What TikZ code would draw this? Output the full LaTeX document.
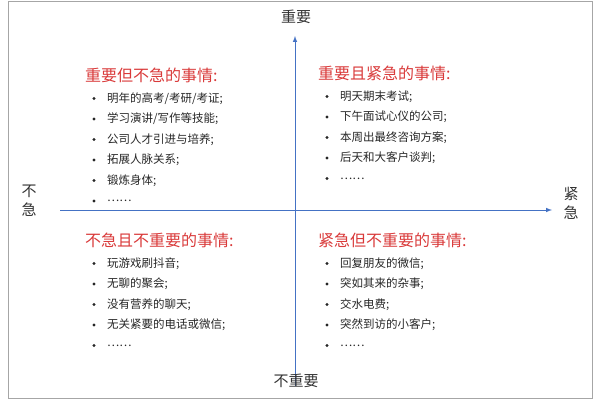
\documentclass[tikz,border=0pt]{standalone}
\usepackage{fontspec}
\newfontfamily\cjk{Noto Sans CJK SC}
\definecolor{axc}{HTML}{4472C4}
\definecolor{tred}{HTML}{D93A3A}
\begin{document}
\begin{tikzpicture}[x=1pt,y=-1pt,
  lab/.style={font=\cjk\fontsize{15}{15}\selectfont,text=black!80},
  ttl/.style={font=\cjk\fontsize{16}{16}\selectfont,text=tred,anchor=west,inner sep=0},
  itm/.style={font=\cjk\fontsize{11.5}{11.5}\selectfont,text=black!85,anchor=west,inner sep=0},
  bul/.style={circle,fill=black!85,inner sep=0,minimum size=3.2pt},
  ax/.style={draw=axc,line width=1pt,-latex}]
\useasboundingbox (0,0) rectangle (600,400);
\draw[gray!70,line width=1pt] (8,1) rectangle (592,398);
\coordinate (vb) at (295,386); \coordinate (vt) at (295,36);
\coordinate (hl) at (60,210); \coordinate (hr) at (552,210);
\draw[ax] (vb) -- (vt);
\draw[ax] (hl) -- (hr);
\node[lab] (imp) at (296,17) {重要};
\node[lab] (nimp) at (296,381) {不重要};
\node[lab,align=center] (nu) at (29,201) {不\\[4pt]急};
\node[lab,align=center] (u) at (571,203) {紧\\[4pt]急};
\newcommand{\quadr}[4]{%
  \node[ttl] at (#1,#2) {#3};
  \foreach \t [count=\i] in {#4}{
    \node[bul] at (#1+9,#2+3+\i*20.5) {};
    \node[itm] at (#1+22,#2+3+\i*20.5) {\t};
  }}
\quadr{85}{75}{重要但不急的事情:}{明年的高考/考研/考证;,学习演讲/写作等技能;,公司人才引进与培养;,拓展人脉关系;,锻炼身体;,……}
\quadr{318}{73}{重要且紧急的事情:}{明天期末考试;,下午面试心仪的公司;,本周出最终咨询方案;,后天和大客户谈判;,……}
\quadr{85}{240}{不急且不重要的事情:}{玩游戏刷抖音;,无聊的聚会;,没有营养的聊天;,无关紧要的电话或微信;,……}
\quadr{318}{240}{紧急但不重要的事情:}{回复朋友的微信;,突如其来的杂事;,交水电费;,突然到访的小客户;,……}
\end{tikzpicture}
\end{document}
